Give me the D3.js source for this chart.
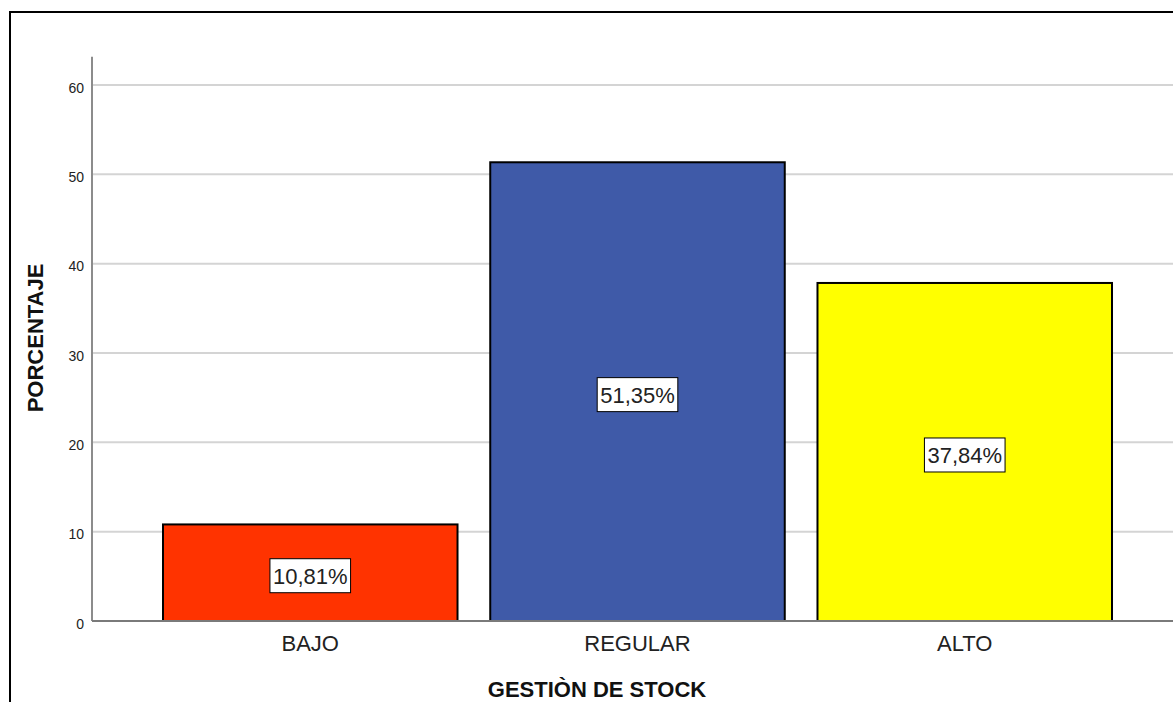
<!DOCTYPE html>
<html>
<head>
<meta charset="utf-8">
<script src="https://cdn.jsdelivr.net/npm/d3@7"></script>
<style>
  html, body { margin: 0; padding: 0; background: #fff; }
  svg { display: block; font-family: "Liberation Sans", Arial, sans-serif; }
</style>
</head>
<body>
<svg id="chart" width="1173" height="702"></svg>
<script>
// Data
const categories = ["BAJO", "REGULAR", "ALTO"];
const percentages = [10.81, 51.35, 37.84];
const barColors = ["#FF3300", "#3F5AA8", "#FFFF00"];
const yTicks = [0, 10, 20, 30, 40, 50, 60];
const xTitle = "GESTIÒN DE STOCK";
const yTitle = "PORCENTAJE";

const svg = d3.select("#chart");
const W = 1173, H = 702;

// Outer frame
svg.append("rect")
  .attr("x", 10).attr("y", 12)
  .attr("width", W + 20).attr("height", H + 20)
  .attr("fill", "none").attr("stroke", "#000").attr("stroke-width", 2);

const axisX = 92, plotRight = W + 5;
const y = d3.scaleLinear().domain([0, 60]).range([621, 85]);
const yTop = y(63.15);

const x = d3.scaleBand()
  .domain(categories)
  .range([163, 1112])
  .paddingInner(0.1)
  .paddingOuter(0);

// Gridlines
svg.append("g").selectAll("line")
  .data(yTicks.filter(d => d > 0))
  .join("line")
  .attr("x1", axisX).attr("x2", plotRight)
  .attr("y1", d => y(d)).attr("y2", d => y(d))
  .attr("stroke", "#d4d4d4").attr("stroke-width", 2);

// Y axis with labels only (no outward ticks)
const yAxis = d3.axisLeft(y).tickValues(yTicks).tickSize(0).tickPadding(8);
const gy = svg.append("g").attr("transform", `translate(${axisX},0)`).call(yAxis);
gy.select(".domain").remove();
gy.selectAll("text")
  .attr("font-size", 14).attr("fill", "#222")
  .attr("font-family", "'Liberation Sans', Arial, sans-serif")
  .attr("dy", "0.5em");

svg.append("line")
  .attr("x1", axisX).attr("x2", axisX)
  .attr("y1", yTop).attr("y2", y(0))
  .attr("stroke", "#8c8c8c").attr("stroke-width", 2);

// Bars
svg.append("g").selectAll("rect")
  .data(categories)
  .join("rect")
  .attr("x", d => x(d))
  .attr("y", (d, i) => y(percentages[i]))
  .attr("width", x.bandwidth())
  .attr("height", (d, i) => y(0) - y(percentages[i]))
  .attr("fill", (d, i) => barColors[i])
  .attr("stroke", "#000").attr("stroke-width", 2);

// Baseline
svg.append("line")
  .attr("x1", axisX).attr("x2", plotRight)
  .attr("y1", y(0)).attr("y2", y(0))
  .attr("stroke", "#7a7a7a").attr("stroke-width", 2);

// Value labels in boxes
const fmt = v => v.toFixed(2).replace(".", ",") + "%";
const labels = svg.append("g").selectAll("g")
  .data(categories)
  .join("g")
  .attr("transform", (d, i) => {
    const cx = x(d) + x.bandwidth() / 2;
    const cy = (y(percentages[i]) + y(0)) / 2 + 3;
    return `translate(${cx},${cy})`;
  });
labels.append("text")
  .attr("text-anchor", "middle")
  .attr("dy", "0.36em")
  .attr("font-size", 22)
  .attr("fill", "#222")
  .text((d, i) => fmt(percentages[i]));
labels.each(function() {
  const g = d3.select(this);
  const bb = g.select("text").node().getBBox();
  g.insert("rect", "text")
    .attr("x", bb.x - 3).attr("y", -17)
    .attr("width", bb.width + 6).attr("height", 34)
    .attr("fill", "#fff").attr("stroke", "#000").attr("stroke-width", 1);
});

// Category labels
svg.append("g").selectAll("text")
  .data(categories)
  .join("text")
  .attr("x", d => x(d) + x.bandwidth() / 2)
  .attr("y", 651)
  .attr("text-anchor", "middle")
  .attr("font-size", 22)
  .attr("fill", "#222")
  .text(d => d);

// Axis titles
svg.append("text")
  .attr("x", 597)
  .attr("y", 697)
  .attr("text-anchor", "middle")
  .attr("font-size", 22).attr("font-weight", "bold")
  .attr("fill", "#111")
  .text(xTitle);

svg.append("text")
  .attr("transform", "translate(43,338) rotate(-90)")
  .attr("text-anchor", "middle")
  .attr("font-size", 22).attr("font-weight", "bold")
  .attr("fill", "#111")
  .text(yTitle);
</script>
</body>
</html>
